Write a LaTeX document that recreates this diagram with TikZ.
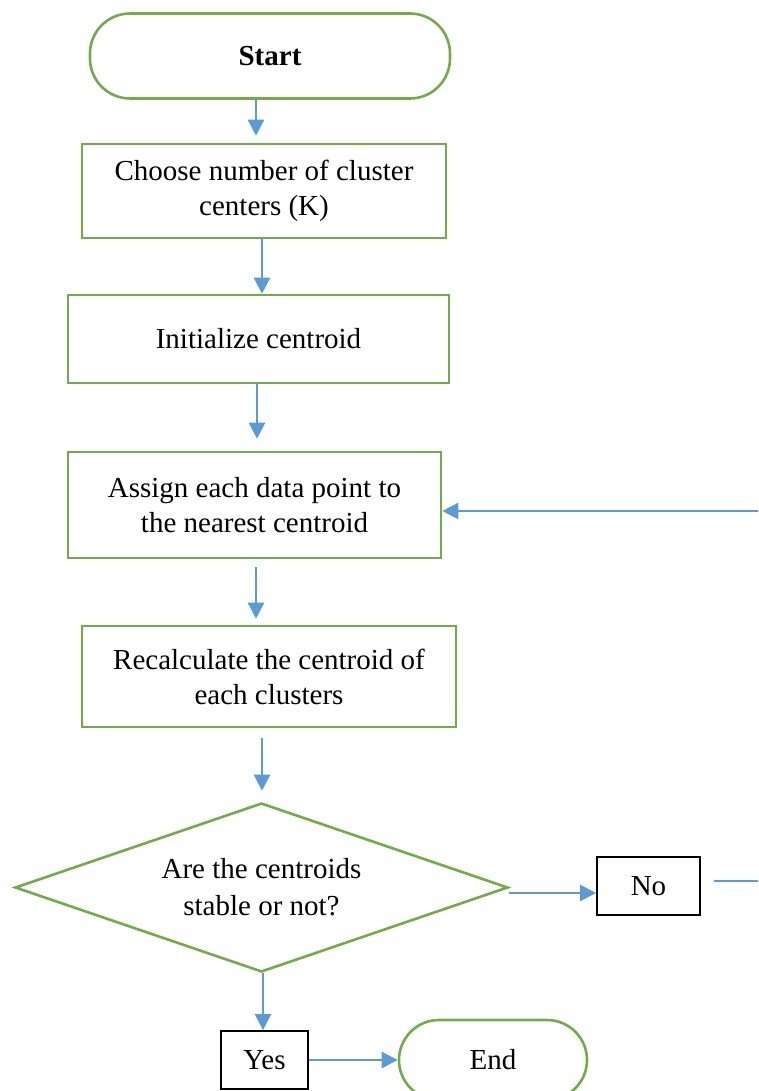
\documentclass[tikz,border=0pt]{standalone}
\usepackage{fontspec}
\setmainfont{Liberation Serif}
\usetikzlibrary{arrows.meta,shapes.geometric}

\definecolor{stepgreen}{RGB}{112,173,71}
\definecolor{flowblue}{RGB}{91,155,213}

\begin{document}
\begin{tikzpicture}[
  x=1pt, y=-1pt,
  >={Triangle[width=16pt,length=16pt]},
  P/.style={
    rectangle, draw=stepgreen, line width=2.6pt, fill=white,
    font=\fontsize{29}{35}\selectfont, align=center, inner sep=0pt
  },
  T/.style={P, rounded corners=40pt},
  D/.style={
    diamond, aspect=2.92, draw=stepgreen, line width=2.6pt, fill=white,
    font=\fontsize{29}{37}\selectfont, align=center, inner sep=0pt,
    minimum width=493pt, minimum height=169pt
  },
  L/.style={
    rectangle, draw=black, line width=1.8pt,
    font=\fontsize{29}{35}\selectfont, inner sep=0pt
  },
  arr/.style={->, draw=flowblue, fill=flowblue, line width=2.5pt}
]
\useasboundingbox (0,0) rectangle (758,1091);

\node[T, minimum width=360pt, minimum height=85pt]  (start)  at (270,56)     {\bfseries Start};
\node[P, minimum width=364pt, minimum height=94pt]  (choose) at (264,191)    {Choose number of cluster\\centers (K)};
\node[P, minimum width=381pt, minimum height=88pt]  (init)   at (258.5,339)  {Initialize centroid};
\node[P, minimum width=373pt, minimum height=106pt] (assign) at (254.5,505)  {Assign each data point to\\the nearest centroid};
\node[P, minimum width=374pt, minimum height=101pt] (recalc) at (269,676.5)  {Recalculate the centroid of\\each clusters};
\node[D]                                            (stable) at (261.5,887.5) {Are the centroids\\stable or not?};
\node[L, minimum width=103pt, minimum height=58pt]  (no)     at (648.5,886)  {No};
\node[L, minimum width=87pt, minimum height=58pt]   (yes)    at (264.5,1060) {Yes};
\node[T, minimum width=188pt, minimum height=80pt]  (end)    at (493,1060)   {End};

% loop back from "No"
\coordinate (fbout) at (758,881);
\coordinate (fbin)  at (758,511);

\draw[arr] ([xshift=-14pt]start.south) -- ([xshift=-8pt,yshift=7pt]choose.north);
\draw[arr] ([xshift=-2pt]choose.south) -- ([xshift=3.5pt]init.north);
\draw[arr] ([xshift=-1.5pt]init.south) -- ([xshift=2.5pt,yshift=12pt]assign.north);
\draw[arr] ([xshift=1.5pt,yshift=-8pt]assign.south) -- ([xshift=-13pt,yshift=6pt]recalc.north);
\draw[arr] ([xshift=-7pt,yshift=-10pt]recalc.south) -- ([xshift=0.5pt,yshift=11pt]stable.north);
\draw[arr] ([yshift=-5.5pt]stable.east) -- ([yshift=-7pt]no.west);
\draw[arr] ([xshift=1.5pt]stable.south) -- ([xshift=-1.5pt]yes.north);
\draw[arr] (yes.east) -- (end.west);

\draw[flowblue, line width=2.5pt] ([xshift=13pt,yshift=5pt]no.east) -- (fbout);
\draw[arr] (fbin) -- (fbin -| assign.east);

\end{tikzpicture}
\end{document}
